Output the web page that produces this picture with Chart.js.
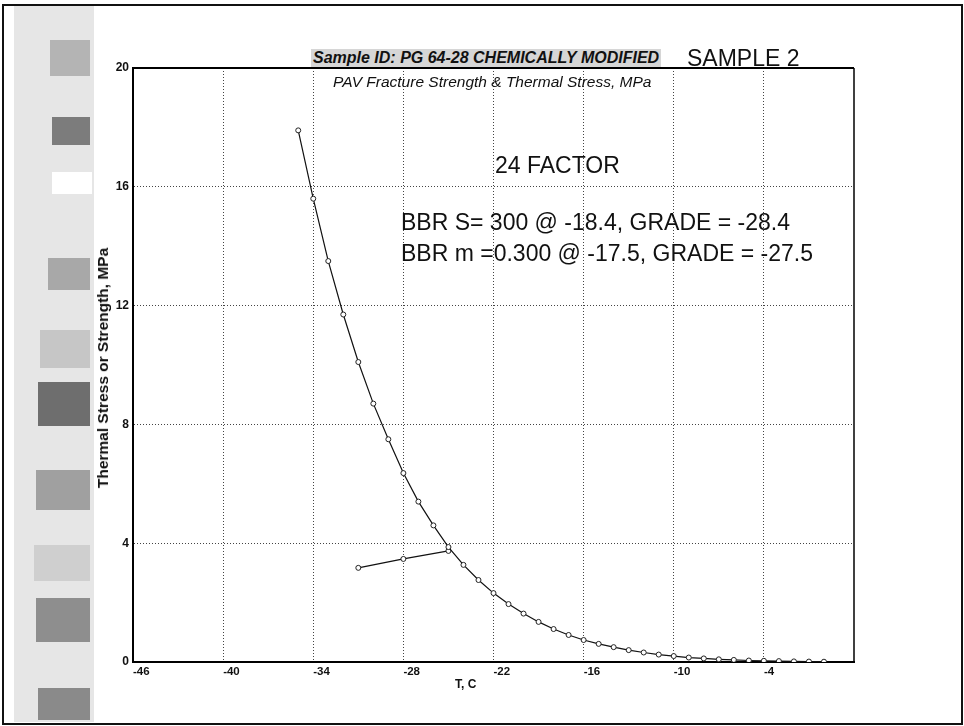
<!DOCTYPE html>
<html>
<head>
<meta charset="utf-8">
<script src="https://cdn.jsdelivr.net/npm/chart.js@4"></script>
<style>
  body { margin: 0; background: #fff; font-family: "Liberation Sans", Arial, sans-serif; }
  #wrap { position: relative; width: 964px; height: 726px; overflow: hidden; }
  #frame { position: absolute; left: 2px; top: 4px; width: 957px; height: 717px; border: 2px solid #111; }
  canvas { position: absolute; left: 0; top: 0; }
  .txt { position: absolute; white-space: nowrap; color: #111; line-height: 1; }
  .strip { position: absolute; left: 14px; top: 6px; width: 80px; height: 716px; background: #e6e6e6; }
  .blk { position: absolute; }
</style>
</head>
<body>
<div id="wrap">
  <div class="strip"></div>
  <div class="blk" style="left:50px;top:40px;width:40px;height:36px;background:#b4b4b4"></div>
  <div class="blk" style="left:52px;top:117px;width:38px;height:28px;background:#7c7c7c"></div>
  <div class="blk" style="left:52px;top:172px;width:40px;height:22px;background:#fff"></div>
  <div class="blk" style="left:48px;top:258px;width:42px;height:32px;background:#a8a8a8"></div>
  <div class="blk" style="left:40px;top:330px;width:50px;height:38px;background:#c6c6c6"></div>
  <div class="blk" style="left:38px;top:382px;width:52px;height:44px;background:#6e6e6e"></div>
  <div class="blk" style="left:36px;top:470px;width:54px;height:40px;background:#a0a0a0"></div>
  <div class="blk" style="left:34px;top:545px;width:56px;height:36px;background:#cfcfcf"></div>
  <div class="blk" style="left:36px;top:598px;width:54px;height:44px;background:#8e8e8e"></div>
  <div class="blk" style="left:38px;top:688px;width:52px;height:32px;background:#8a8a8a"></div>
  <div id="frame"></div>
  <canvas id="myChart" width="964" height="726"></canvas>

  <div class="txt" style="left:311px;top:49px;font:italic bold 16px 'Liberation Sans',Arial;background:#d6d6d6;padding:0 2px;">Sample ID: PG 64-28 CHEMICALLY MODIFIED</div>
  <div class="txt" style="left:687px;top:45px;font:23px 'Liberation Sans',Arial;">SAMPLE 2</div>
  <div class="txt" style="left:333px;top:73px;font:italic 15.5px 'Liberation Sans',Arial;">PAV Fracture Strength &amp; Thermal Stress, MPa</div>
  <div class="txt" style="left:495px;top:152px;font:23px 'Liberation Sans',Arial;">24 FACTOR</div>
  <div class="txt" style="left:401px;top:209px;font:23px 'Liberation Sans',Arial;">BBR S= 300 @ -18.4, GRADE = -28.4</div>
  <div class="txt" style="left:401px;top:240px;font:23px 'Liberation Sans',Arial;">BBR m =0.300 @ -17.5, GRADE = -27.5</div>
  <div class="txt" style="left:455px;top:677px;font:bold 12px 'Liberation Sans',Arial;">T, C</div>
  <div class="txt" style="left:103px;top:368px;font:bold 15.5px 'Liberation Sans Narrow','Liberation Sans',Arial;transform:translate(-50%,-50%) rotate(-90deg);">Thermal Stress or Strength, MPa</div>
</div>

<script>
// thermal stress curve, one point per degree C
const tempC = [-35, -34, -33, -32, -31, -30, -29, -28, -27, -26, -25, -24, -23, -22, -21, -20, -19, -18,
  -17, -16, -15, -14, -13, -12, -11, -10, -9, -8, -7, -6, -5, -4, -3, -2, -1, 0];
const thermalStress = [17.9, 15.6, 13.5, 11.7, 10.1, 8.7, 7.5, 6.36, 5.4, 4.6, 3.87, 3.27, 2.76, 2.32,
  1.95, 1.63, 1.35, 1.11, 0.91, 0.74, 0.61, 0.5, 0.4, 0.32, 0.25, 0.2, 0.15, 0.12, 0.09, 0.07, 0.05,
  0.04, 0.03, 0.02, 0.015, 0.01];

// fracture strength
const strengthT = [-31, -28, -25];
const strength = [3.17, 3.47, 3.74];

const xTicks = [-46, -40, -34, -28, -22, -16, -10, -4];
const yTicks = [0, 4, 8, 12, 16, 20];

const toPts = (xs, ys) => xs.map((x, i) => ({ x: x, y: ys[i] }));

const framePlugin = {
  id: "frame",
  afterDraw(chart) {
    const a = chart.chartArea;
    const c = chart.ctx;
    c.save();
    c.strokeStyle = "#000";
    c.lineWidth = 2;
    c.beginPath();
    c.moveTo(a.left, a.top);
    c.lineTo(a.right, a.top);
    c.stroke();
    c.lineWidth = 1.5;
    c.beginPath();
    c.moveTo(a.right, a.top);
    c.lineTo(a.right, a.bottom);
    c.stroke();
    c.restore();
  }
};

const ctx = document.getElementById("myChart").getContext("2d");
const chart = new Chart(ctx, {
  type: "scatter",
  data: {
    datasets: [
      {
        label: "Thermal Stress",
        data: toPts(tempC, thermalStress),
        showLine: true,
        borderColor: "#111",
        borderWidth: 1.2,
        pointRadius: 2.5,
        pointBorderWidth: 1,
        pointBorderColor: "#222",
        pointBackgroundColor: "#fff"
      },
      {
        label: "Fracture Strength",
        data: toPts(strengthT, strength),
        showLine: true,
        borderColor: "#111",
        borderWidth: 1.2,
        pointRadius: 2.5,
        pointBorderWidth: 1,
        pointBorderColor: "#222",
        pointBackgroundColor: "#fff"
      }
    ]
  },
  options: {
    responsive: false,
    animation: false,
    layout: { padding: { left: 95, top: 68, right: 110, bottom: 24 } },
    plugins: { legend: { display: false }, tooltip: { enabled: false } },
    scales: {
      x: {
        type: "linear",
        min: -46,
        max: 2,
        afterBuildTicks: (s) => { s.ticks = xTicks.map((v) => ({ value: v })); },
        afterFit: (s) => { s.height = 40; },
        grid: { color: "#444", drawTicks: false },
        border: { color: "#000", width: 2, dash: [1, 2] },
        ticks: {
          align: "start",
          padding: 3,
          color: "#111",
          font: { family: "'Liberation Sans', Arial", size: 11.5, weight: "bold" }
        }
      },
      y: {
        type: "linear",
        min: 0,
        max: 20,
        afterBuildTicks: (s) => { s.ticks = yTicks.map((v) => ({ value: v })); },
        afterFit: (s) => { s.width = 38; },
        grid: { color: "#444", drawTicks: false },
        border: { color: "#000", width: 2, dash: [1, 2] },
        ticks: {
          padding: 4,
          color: "#111",
          font: { family: "'Liberation Sans', Arial", size: 12, weight: "bold" }
        }
      }
    }
  },
  plugins: [framePlugin]
});
</script>
</body>
</html>
